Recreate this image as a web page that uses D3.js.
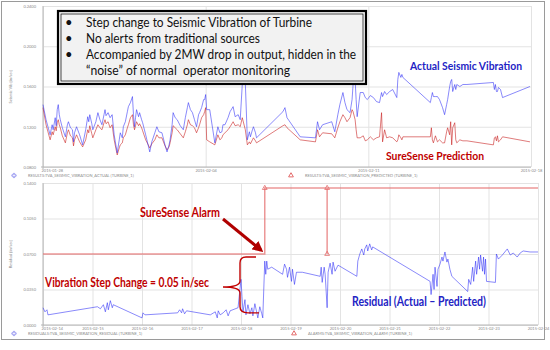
<!DOCTYPE html>
<html lang="en">
<head>
<meta charset="UTF-8">
<title>SureSense - Seismic Vibration</title>
<style>
  body { margin: 0; background: #fff; }
  svg text { font-family: Lato, "Open Sans", sans-serif; }
</style>
</head>
<body>
<div class="canvas"></div>
<script src="https://cdnjs.cloudflare.com/ajax/libs/d3/7.8.5/d3.min.js"></script>
<script>
// ---- top chart data : actual vs predicted vibration (in/sec), time in hours
const topTime = [
  0,3,7,9,10,12,13,14,15,16,
  17,19,22,24,25,27,29,30,31,33,
  36,39,42,44,45,46,48,49,52,54,
  56,58,60,61,62,64,66,68,70,73,
  75,76,78,79,81,83,84,86,88,89,
  90,91,92,94,95,97,98,101,105,107,
  110,112,114,117,120,122,124,125,127,128,
  130,132,135,138,140,142,143,145,147,149,
  151,153,154,156,158,159,160,161,164,169,
  172,174,176,177,179,182,184,187,189,192,
  194,196,199,201,203,204,206,207,209,210,
  236,238,240,253,268,270,272,275,284,287,
  290,292,295,297,299,302,304,305,307,308,
  309,312,315,317,319,322,325,328,331,333,
  334,336,338,341,344,348,349,350,352,353,
  354,381,382,383,384,386,388,390,393,395,
  397,398,400,401,402,403,405,406,407,410,
  413,417,443,444,445,446,447,448,450,452,
  479
];
const actualVib = [
  0.142,0.127,0.112,0.122,0.117,0.129,0.121,0.137,0.142,0.132,
  0.127,0.119,0.110,0.122,0.125,0.119,0.117,0.105,0.114,0.120,
  0.112,0.102,0.117,0.130,0.125,0.132,0.123,0.117,0.125,0.134,
  0.127,0.122,0.132,0.137,0.131,0.134,0.129,0.132,0.112,0.094,
  0.107,0.114,0.109,0.120,0.125,0.135,0.140,0.144,0.150,0.132,
  0.120,0.129,0.137,0.130,0.134,0.127,0.124,0.112,0.095,0.105,
  0.114,0.120,0.115,0.114,0.102,0.095,0.102,0.107,0.122,0.134,
  0.129,0.127,0.121,0.117,0.129,0.139,0.144,0.137,0.134,0.127,
  0.120,0.132,0.134,0.139,0.147,0.147,0.152,0.137,0.137,0.104,
  0.120,0.114,0.115,0.122,0.122,0.129,0.135,0.140,0.130,0.132,
  0.127,0.162,0.164,0.107,0.115,0.110,0.117,0.120,0.114,0.109,
  0.135,0.139,0.129,0.110,0.109,0.125,0.117,0.122,0.125,0.115,
  0.132,0.142,0.154,0.144,0.137,0.134,0.147,0.162,0.167,0.147,
  0.130,0.154,0.154,0.149,0.147,0.151,0.149,0.145,0.144,0.154,
  0.150,0.155,0.152,0.155,0.157,0.149,0.167,0.174,0.169,0.172,
  0.169,0.144,0.149,0.154,0.150,0.150,0.150,0.147,0.139,0.132,
  0.142,0.147,0.160,0.165,0.167,0.155,0.162,0.157,0.162,0.160,
  0.162,0.162,0.164,0.157,0.162,0.155,0.155,0.159,0.157,0.149,
  0.160
];
const predictedVib = [
  0.139,0.122,0.107,0.115,0.112,0.120,0.116,0.124,0.127,0.122,
  0.119,0.111,0.104,0.114,0.117,0.111,0.109,0.101,0.107,0.112,
  0.105,0.100,0.107,0.117,0.114,0.121,0.113,0.109,0.117,0.122,
  0.119,0.117,0.124,0.127,0.123,0.125,0.119,0.122,0.107,0.092,
  0.099,0.102,0.104,0.109,0.112,0.119,0.122,0.129,0.132,0.122,
  0.117,0.121,0.125,0.121,0.123,0.119,0.116,0.107,0.099,0.103,
  0.107,0.112,0.109,0.109,0.101,0.097,0.100,0.104,0.114,0.121,
  0.119,0.117,0.113,0.109,0.115,0.122,0.127,0.122,0.121,0.119,
  0.114,0.119,0.122,0.129,0.132,0.135,0.139,0.107,0.105,0.102,
  0.112,0.107,0.109,0.112,0.114,0.117,0.120,0.125,0.121,0.122,
  0.120,0.129,0.117,0.102,0.105,0.103,0.107,0.109,0.106,0.104,
  0.121,0.122,0.119,0.107,0.105,0.117,0.110,0.114,0.113,0.109,
  0.119,0.125,0.132,0.129,0.125,0.129,0.137,0.135,0.127,0.117,
  0.109,0.109,0.111,0.106,0.107,0.110,0.107,0.109,0.110,0.134,
  0.105,0.117,0.109,0.110,0.109,0.105,0.107,0.112,0.109,0.107,
  0.110,0.110,0.119,0.107,0.104,0.111,0.105,0.107,0.104,0.104,
  0.115,0.119,0.112,0.125,0.102,0.119,0.124,0.107,0.104,0.107,
  0.106,0.106,0.102,0.109,0.110,0.106,0.111,0.105,0.107,0.110,
  0.105
];
const topYTicks = [0.08, 0.12, 0.16, 0.20, 0.24];
const topXTicks = [0, 160, 320, 480];
const topXLabels = ['2015-01-28', '2015-02-04', '2015-02-11', '2015-02-18'];

// ---- bottom chart data : residual (actual - predicted) and alarm signal
const resTime = [
  0,2,4,5,55,58,61,63,65,66,
  68,70,71,100,101,103,136,138,140,141,
  143,145,169,174,176,177,179,182,185,187,
  189,197,200,201,202,204,205,206,207,209,
  211,212,214,216,217,219,221,222,224,225,
  226,227,231,242,244,246,247,249,251,252,
  254,256,262,280,281,282,284,285,287,288,
  290,292,293,295,298,317,318,320,322,324,
  325,327,328,330,332,333,391,392,394,395,
  396,398,399,401,403,404,406,408,409,411,
  413,429,430,432,434,435,437,438,440,441,
  442,444,445,446,447,448,457,458,460,464,
  469,472,475,479,482,485,492,500
];
const residual = [
  0.017,0.013,0.015,0.010,0.018,0.016,0.020,0.013,0.022,0.015,
  0.024,0.017,0.020,0.007,0.012,0.010,0.012,0.015,0.012,0.016,
  0.011,0.014,0.010,0.013,0.007,0.014,0.010,0.012,0.015,0.009,
  0.014,0.017,0.045,0.028,0.013,0.025,0.010,0.015,0.020,0.011,
  0.017,0.009,0.021,0.012,0.007,0.018,0.011,0.007,0.063,0.050,
  0.063,0.055,0.057,0.050,0.060,0.055,0.047,0.057,0.043,0.055,
  0.040,0.052,0.052,0.048,0.057,0.042,0.057,0.050,0.017,0.052,
  0.061,0.050,0.062,0.053,0.059,0.048,0.063,0.070,0.075,0.069,
  0.075,0.079,0.073,0.080,0.074,0.077,0.043,0.030,0.050,0.035,
  0.057,0.038,0.055,0.060,0.067,0.063,0.072,0.062,0.065,0.055,
  0.048,0.033,0.045,0.040,0.057,0.043,0.063,0.050,0.067,0.055,
  0.069,0.053,0.067,0.050,0.065,0.043,0.042,0.070,0.065,0.069,
  0.075,0.069,0.071,0.067,0.071,0.073,0.072,0.072
];
const alarmTime  = [0, 224, 224, 287, 287, 287, 500];
const alarmLevel = [0.07, 0.07, 0.135, 0.135, 0.07, 0.135, 0.135];
const alarmMarkTime  = [224, 287, 287];
const alarmMarkLevel = [0.135, 0.135, 0.07];
const botYTicks = [0, 0.035, 0.07, 0.105, 0.14];
const botXTicks = [0, 50, 100, 150, 200, 250, 300, 350, 400, 450, 500];
const botXLabels = ['2015-02-14', '2015-02-15', '2015-02-16', '2015-02-17', '2015-02-18', '2015-02-19',
                    '2015-02-20', '2015-02-21', '2015-02-22', '2015-02-23', '2015-02-24'];

const svg = d3.select('.canvas')
  .append('svg')
    .attr('width', 550)
    .attr('height', 350);

// outer frame of the screenshot
svg.append('rect')
  .attr('x', 1.5).attr('y', 1.5)
  .attr('width', 543).attr('height', 338)
  .attr('fill', 'none')
  .attr('stroke', '#9a9a9a');

// draws grid + axes for one panel and returns its scales
function panel(cfg) {
  const x = d3.scaleLinear().domain(cfg.xDomain).range([cfg.left, cfg.right]);
  const y = d3.scaleLinear().domain(cfg.yDomain).range([cfg.bottom, cfg.top]);

  const xg = svg.append('g')
    .attr('transform', `translate(0, ${cfg.bottom})`)
    .call(d3.axisBottom(x)
      .tickValues(cfg.xTicks)
      .tickSize(-(cfg.bottom - cfg.top))
      .tickPadding(2)
      .tickFormat((d, i) => cfg.xLabels[i]));

  const yg = svg.append('g')
    .attr('transform', `translate(${cfg.left}, 0)`)
    .call(d3.axisLeft(y)
      .tickValues(cfg.yTicks)
      .tickSize(-(cfg.right - cfg.left))
      .tickPadding(7)
      .tickFormat(d3.format('.4f')));

  [xg, yg].forEach(g => {
    g.select('.domain').remove();
    g.selectAll('.tick line').attr('stroke', '#e3e3e3');
    g.selectAll('.tick text')
      .attr('fill', '#8a8a8a')
      .style('font-size', '4px');
  });
  // first date label starts at the axis so it clears the lowest value label
  xg.selectAll('.tick text').filter((d, i) => i === 0)
    .attr('text-anchor', 'start')
    .attr('dx', -2);

  // axis lines
  svg.append('line')
    .attr('x1', cfg.left).attr('x2', cfg.left)
    .attr('y1', cfg.top).attr('y2', cfg.bottom + 2)
    .attr('stroke', '#b5b5b5');
  svg.append('line')
    .attr('x1', cfg.left - 2).attr('x2', cfg.right)
    .attr('y1', cfg.bottom).attr('y2', cfg.bottom)
    .attr('stroke', '#b5b5b5');

  // rotated y title
  svg.append('text')
    .attr('transform', `translate(${cfg.left - 31}, ${(cfg.top + cfg.bottom) / 2}) rotate(-90)`)
    .attr('text-anchor', 'middle')
    .attr('fill', '#8a8a8a')
    .style('font-size', '4px')
    .text(cfg.yTitle);

  return {x, y};
}

const topP = panel({
  left: 43, right: 531, top: 6, bottom: 167,
  xDomain: [0, 480], yDomain: [0.08, 0.24],
  xTicks: topXTicks, xLabels: topXLabels, yTicks: topYTicks,
  yTitle: 'Seismic Vib [in/sec]'
});

const botP = panel({
  left: 43, right: 538, top: 183, bottom: 325,
  xDomain: [0, 500], yDomain: [0, 0.14],
  xTicks: botXTicks, xLabels: botXLabels, yTicks: botYTicks,
  yTitle: 'Residual [in/sec]'
});

// ---- series
const lineTop = d3.line().x(d => topP.x(d[0])).y(d => topP.y(d[1]));
const lineBot = d3.line().x(d => botP.x(d[0])).y(d => botP.y(d[1]));

svg.append('path')
  .datum(d3.zip(topTime, predictedVib))
  .attr('d', lineTop)
  .attr('fill', 'none')
  .attr('stroke', '#c41010')
  .attr('stroke-opacity', 0.55)
  .attr('stroke-width', 1);

svg.append('path')
  .datum(d3.zip(topTime, actualVib))
  .attr('d', lineTop)
  .attr('fill', 'none')
  .attr('stroke', '#2a2af5')
  .attr('stroke-opacity', 0.55)
  .attr('stroke-width', 1);

svg.append('path')
  .datum(d3.zip(alarmTime, alarmLevel))
  .attr('d', lineBot)
  .attr('fill', 'none')
  .attr('stroke', '#e46b6b')
  .attr('stroke-opacity', 0.7)
  .attr('stroke-width', 1.5);

svg.selectAll('.alarm-mark')
  .data(d3.zip(alarmMarkTime, alarmMarkLevel))
  .enter()
  .append('path')
    .attr('class', 'alarm-mark')
    .attr('d', d3.symbol(d3.symbolTriangle).size(10))
    .attr('transform', d => `translate(${botP.x(d[0])}, ${botP.y(d[1])})`)
    .attr('fill', 'none')
    .attr('stroke', '#e46b6b')
    .attr('stroke-width', 0.8);

svg.append('path')
  .datum(d3.zip(resTime, residual))
  .attr('d', lineBot)
  .attr('fill', 'none')
  .attr('stroke', '#2a2af5')
  .attr('stroke-opacity', 0.55)
  .attr('stroke-width', 1);

// ---- legends under each panel
function legend(yPos, items) {
  items.forEach(it => {
    svg.append('path')
      .attr('d', d3.symbol(it.shape).size(10))
      .attr('transform', `translate(${it.x - 14}, ${yPos - 1.5})`)
      .attr('fill', 'none')
      .attr('stroke', it.color);
    svg.append('text')
      .attr('x', it.x).attr('y', yPos)
      .attr('fill', '#8a8a8a')
      .style('font-size', '4px')
      .text(it.label);
  });
}
legend(177, [
  {x: 28, color: '#9a9af0', shape: d3.symbolCross, label: 'RESULTS:TVA_SEISMIC_VIBRATION_ACTUAL (TURBINE_1)'},
  {x: 305, color: '#e46b6b', shape: d3.symbolTriangle, label: 'RESULTS:TVA_SEISMIC_VIBRATION_PREDICTED (TURBINE_1)'}
]);
legend(335, [
  {x: 28, color: '#9a9af0', shape: d3.symbolCross, label: 'RESIDUALS:TVA_SEISMIC_VIBRATION_RESIDUAL (TURBINE_1)'},
  {x: 308, color: '#e46b6b', shape: d3.symbolTriangle, label: 'ALARMS:TVA_SEISMIC_VIBRATION_ALARM (TURBINE_1)'}
]);

// ---- call-out box
svg.append('rect')
  .attr('x', 58).attr('y', 11)
  .attr('width', 308).attr('height', 73)
  .attr('fill', '#f2f2f2')
  .attr('stroke', '#000')
  .attr('stroke-width', 2.2);
svg.append('rect')
  .attr('x', 61).attr('y', 14)
  .attr('width', 302).attr('height', 67)
  .attr('fill', 'none')
  .attr('stroke', '#000')
  .attr('stroke-width', 0.7);

const boxLines = [
  {t: 'Step change to Seismic Vibration of Turbine', bullet: true, w: 226},
  {t: 'No alerts from traditional sources', bullet: true, w: 174},
  {t: 'Accompanied by 2MW drop in output, hidden in the', bullet: true, w: 270},
  {t: '\u201cnoise\u201d of normal  operator monitoring', bullet: false, w: 204}
];
boxLines.forEach((l, i) => {
  const yPos = 27 + i * 16;
  if (l.bullet) {
    svg.append('text')
      .attr('x', 65).attr('y', yPos)
      .style('font-size', '13px')
      .attr('fill', '#111')
      .text('\u2022');
  }
  svg.append('text')
    .attr('x', 86).attr('y', yPos)
    .attr('textLength', l.w)
    .attr('lengthAdjust', 'spacingAndGlyphs')
    .style('font-size', '13.5px')
    .style('white-space', 'pre')
    .attr('fill', '#111')
    .text(l.t);
});

// ---- annotations
function note(txt, x, y, w, color, size) {
  svg.append('text')
    .attr('x', x).attr('y', y)
    .attr('textLength', w)
    .attr('lengthAdjust', 'spacingAndGlyphs')
    .attr('fill', color)
    .style('font-size', size + 'px')
    .style('font-weight', 700)
    .text(txt);
}
note('Actual Seismic Vibration', 410, 70, 112, '#2323c4', 12);
note('SureSense Prediction', 386, 160, 98, '#c00000', 12);
note('SureSense Alarm', 140, 217, 80, '#c00000', 12.5);
note('Vibration Step Change = 0.05 in/sec', 45, 287, 164, '#c00000', 12.5);
note('Residual (Actual \u2013 Predicted)', 352, 306, 134, '#2323c4', 13);

// arrow to the alarm onset
svg.append('defs').append('marker')
  .attr('id', 'arrowhead')
  .attr('viewBox', '0 0 10 10')
  .attr('refX', 7).attr('refY', 5)
  .attr('markerWidth', 3.6).attr('markerHeight', 3.6)
  .attr('orient', 'auto')
  .append('path')
    .attr('d', 'M0,0 L10,5 L0,10 z')
    .attr('fill', '#b00000');

svg.append('line')
  .attr('x1', 223).attr('y1', 219)
  .attr('x2', botP.x(222) - 2).attr('y2', botP.y(0.072) - 2)
  .attr('stroke', '#b00000')
  .attr('stroke-width', 3)
  .attr('marker-end', 'url(#arrowhead)');

// curly brace spanning the step
const bTop = botP.y(0.067), bBot = botP.y(0.012), bMid = (bTop + bBot) / 2 + 2;
svg.append('path')
  .attr('d', `M256,${bTop} L246,${bTop} Q240,${bTop} 240,${bTop + 6}
              L240,${bMid - 6} Q240,${bMid} 223,${bMid}
              Q240,${bMid} 240,${bMid + 6}
              L240,${bBot - 6} Q240,${bBot} 248,${bBot} L259,${bBot}`)
  .attr('fill', 'none')
  .attr('stroke', '#c00000')
  .attr('stroke-width', 1.4);
</script>
</body>
</html>
